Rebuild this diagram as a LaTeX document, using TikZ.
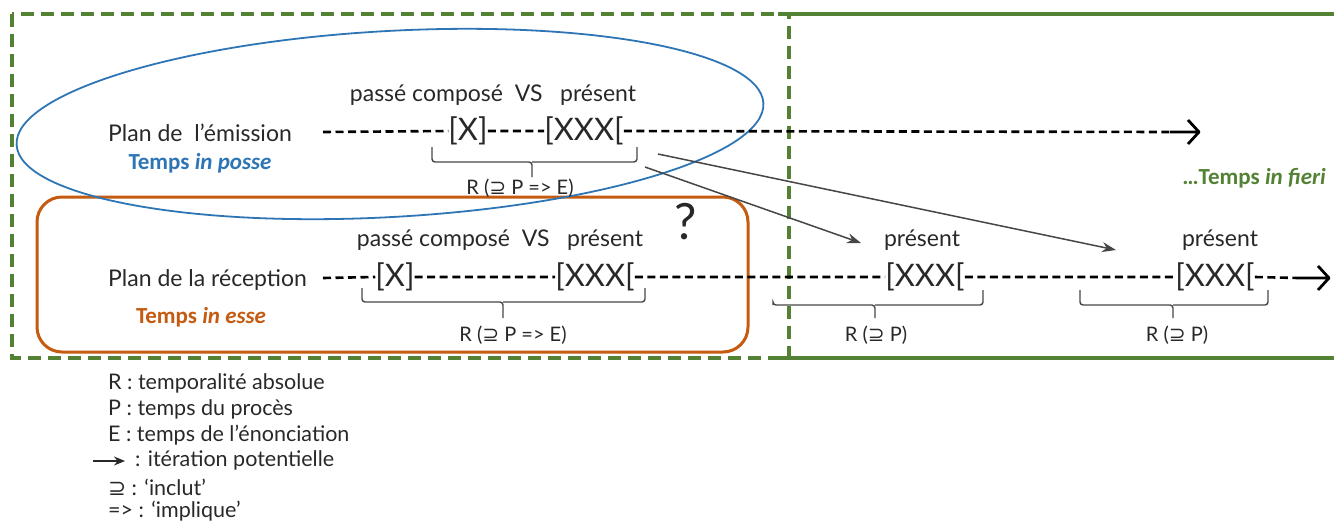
\documentclass[tikz,border=0pt]{standalone}
\usepackage{fontspec}
\setmainfont{Lato}
\newfontfamily\calib{Carlito}
\newfontfamily\symb{DejaVu Sans}
\usepackage{tikz}
\usetikzlibrary{arrows.meta, positioning}
\definecolor{grn}{RGB}{84, 130, 53}
\definecolor{blu}{RGB}{46, 117, 182}
\definecolor{org}{RGB}{197, 90, 17}
\definecolor{ink}{RGB}{40, 40, 40}
\definecolor{gray40}{RGB}{70, 70, 70}
\newcommand{\incl}{{\symb ⊇}}

\begin{document}
\begin{tikzpicture}[x=1pt, y=-1pt,
  lbl/.style={inner sep=0, text=ink, font=\fontsize{23}{27}\selectfont},
  leg/.style={inner sep=0, text=ink, anchor=west, font=\fontsize{21.5}{25}\selectfont},
  brk/.style={inner sep=0, text=ink, font=\fontsize{31}{36}\selectfont},
  rlbl/.style={inner sep=0, text=ink, font=\fontsize{20}{24}\selectfont},
  tps/.style={inner sep=0, font=\calib\bfseries\fontsize{23}{26}\selectfont},
  tline/.style={black, line width=2.6, dash pattern=on 8pt off 4.5pt},
  tiptop/.style={black, line width=2.8, line join=round},
  brace/.style={gray40, line width=1.4, rounded corners=3},
  iter/.style={gray40, line width=1.5, -{Stealth[length=14pt, width=10pt]}}]

  \useasboundingbox (0, 0) rectangle (1334, 520);

  % frames
  \draw[grn, line width=3.5] (778, 14) -- (1334, 14);
  \draw[grn, line width=3.5] (770, 358) -- (1334, 358);
  \draw[grn, line width=3.5, dash pattern=on 13pt off 7pt] (12, 14) rectangle (789, 358);
  \draw[org, line width=3, rounded corners=25] (37, 197) rectangle (748, 352);
  \draw[blu, line width=1.8, rotate around={3.2:(390, 124)}] (390, 124) ellipse [x radius=374, y radius=93];

  % plan de l'emission
  \node[lbl, anchor=west] (pem) at (108, 133) {Plan de\ \ l’émission};
  \node[tps, text=blu] (tposse) at (200, 163) {Temps \textit{in posse}};
  \node[lbl] (pc1) at (493, 95) {passé composé\ \ VS\ \ \ présent};
  \node[brk] (ex1) at (468, 131) {[X]};
  \node[brk] (ex2) at (584, 131) {[XXX[};
  \coordinate (e0) at (323, 132);
  \coordinate (e1) at (1170, 132);
  \coordinate (e2) at (1199, 132);
  \draw[tline] (e0) -- (ex1.west) (ex1.east) -- (ex2.west) (ex2.east) -- (e1);
  \draw[tiptop] (e1) -- (e2) ++(-11, -12) -- (e2) -- ++(-11, 12);
  \node[rlbl] (re1) at (520, 188) {R (\incl\ P => E)};

  % plan de la reception
  \node[lbl, anchor=west] (prec) at (108, 280) {Plan de la réception};
  \node[tps, text=org] (tesse) at (201, 317) {Temps \textit{in esse}};
  \node[lbl] (pc2) at (500, 240) {passé composé\ \ VS\ \ \ présent};
  \node[font=\fontsize{50}{50}\selectfont, text=ink, inner sep=0] (qm) at (686, 222) {?};
  \node[lbl] (pres1) at (922, 240) {présent};
  \node[lbl] (pres2) at (1220, 240) {présent};
  \node[brk] (rx1) at (395, 277) {[X]};
  \node[brk] (rx2) at (595, 277) {[XXX[};
  \node[brk] (rx3) at (925, 277) {[XXX[};
  \node[brk] (rx4) at (1215, 277) {[XXX[};
  \coordinate (r0) at (323, 278);
  \coordinate (r1) at (1298, 278);
  \coordinate (r2) at (1329, 278);
  \draw[tline] (r0) -- (rx1.west) (rx1.east) -- (rx2.west) (rx2.east) -- (rx3.west)
    (rx3.east) -- (rx4.west) (rx4.east) -- (r1);
  \draw[tiptop] (r1) -- (r2) ++(-11, -12) -- (r2) -- ++(-11, 12);
  \node[rlbl] (re2) at (513, 335) {R (\incl\ P => E)};
  \node[rlbl] (re3) at (876, 335) {R (\incl\ P)};
  \node[rlbl] (re4) at (1177, 335) {R (\incl\ P)};
  \node[tps, text=grn, anchor=east] (tfieri) at (1326, 178) {…Temps \textit{in fieri}};

  % braces
  \foreach \l/\lt/\r/\t/\b/\m/\p in {432/147/637/147/162/532/177, 362/288/645/288/302/503/318,
      773/305/983/290/305/875/318, 1080/290/1268/290/305/1173/318} {
    \draw[brace] (\l, \lt) |- (\m, \b) -- (\m, \p) (\m, \b) -| (\r, \t);
  }

  % iterations
  \coordinate (it1s) at (645, 167);
  \coordinate (it1e) at (861, 243);
  \coordinate (it2s) at (658, 154);
  \coordinate (it2e) at (1116, 250);
  \draw[iter] (it1s) -- (it1e);
  \draw[iter] (it2s) -- (it2e);

  % legend
  \node[leg] (lg1) at (108, 383) {R : temporalité absolue};
  \node[leg] (lg2) at (108, 409) {P : temps du procès};
  \node[leg] (lg3) at (108, 435) {E : temps de l’énonciation};
  \coordinate (lga) at (93, 461);
  \coordinate (lgb) at (125, 461);
  \draw[ink, line width=1.6, -{Stealth[length=11pt, width=9pt]}] (lga) -- (lgb);
  \node[leg] (lg4) at (135, 460) {: itération potentielle};
  \node[leg] (lg5) at (108, 487) {\incl\ : ‘inclut’};
  \node[leg] (lg6) at (108, 511) {=> : ‘implique’};

\end{tikzpicture}
\end{document}
